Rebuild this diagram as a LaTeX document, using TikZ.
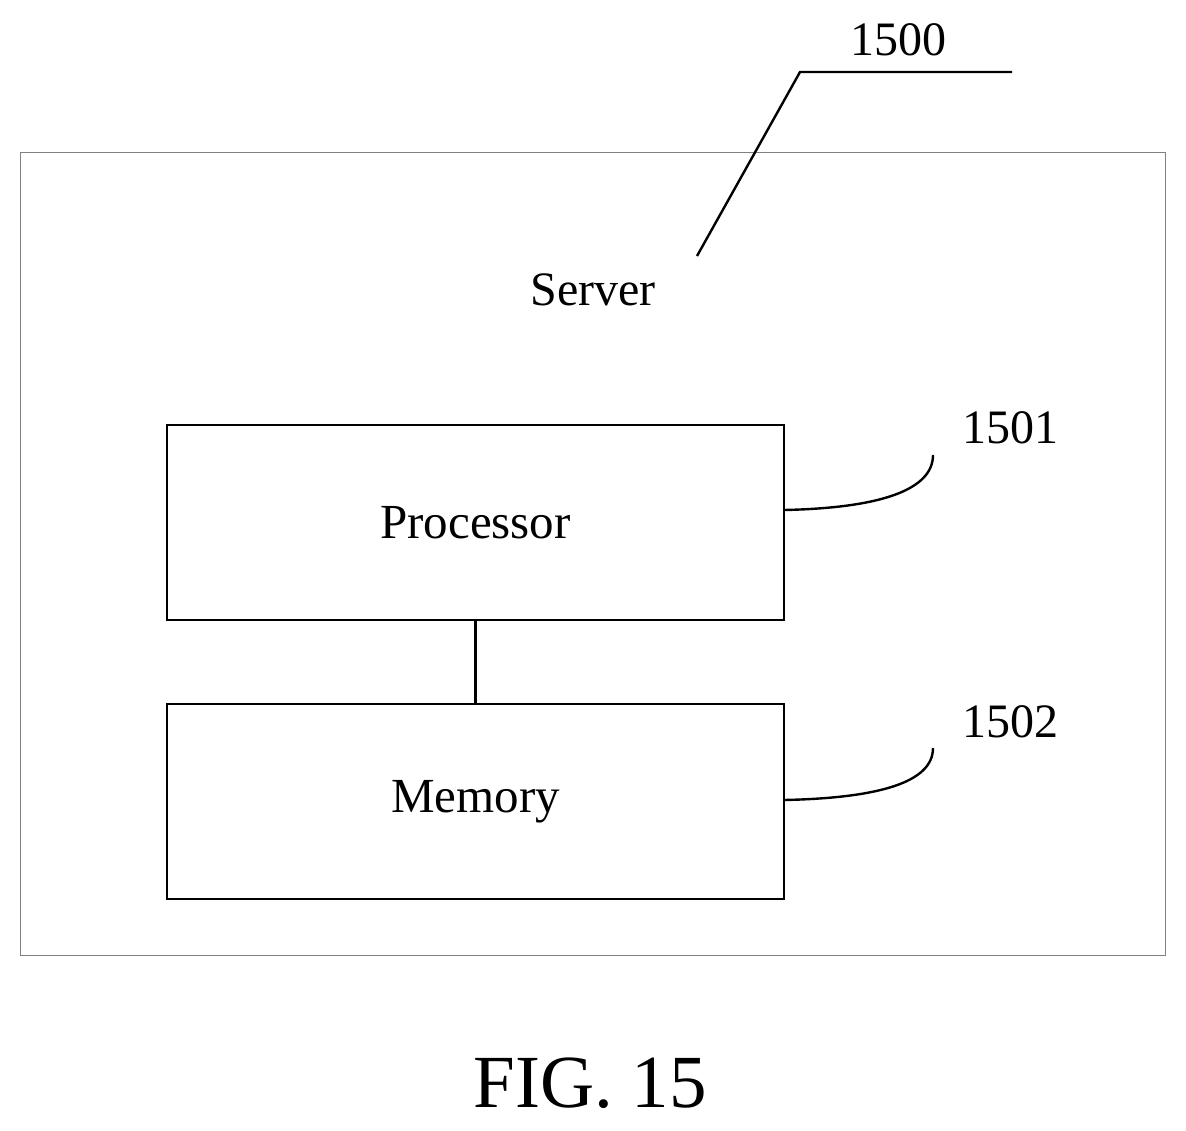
\documentclass[tikz,border=0pt]{standalone}
\usepackage{fontspec}
\setmainfont{Liberation Serif}
\begin{document}
\begin{tikzpicture}[x=1pt,y=-1pt,
  box/.style={draw,line width=2.4pt,minimum width=617pt,minimum height=195pt,inner sep=0pt,font=\fontsize{49}{54}\selectfont},
  lbl/.style={font=\fontsize{48}{52}\selectfont},
  lead/.style={line width=2.4pt}]
\useasboundingbox (0,0) rectangle (1186,1130);
\node[draw=gray,line width=1pt,minimum width=1145pt,minimum height=803pt,inner sep=0pt] (srv) at (592.5,553.5) {};
\node[lbl] (stxt) at (593,290) {Server};
\node[box] (proc) at (475.5,522.5) {Processor};
\node[box] (mem) at (475.5,801.5) {Memory};
\draw[lead] (proc.south) -- (mem.south |- mem.north);
\node[lbl] (l1500) at (898,40) {1500};
\node[lbl] (l1501) at (1010,428) {1501};
\node[lbl] (l1502) at (1010,722) {1502};
\coordinate (a0) at (697,256);
\coordinate (a1) at (800,72);
\coordinate (a2) at (1012,72);
\draw[lead] (a0) -- (a1) -- (a2);
\coordinate (b0) at (784,510);
\coordinate (b1) at (933,455);
\draw[lead] (b0) .. controls (880,508) and (933,490) .. (b1);
\coordinate (c0) at (784,800);
\coordinate (c1) at (933,748);
\draw[lead] (c0) .. controls (880,798) and (933,782) .. (c1);
\node[font=\fontsize{75}{82}\selectfont] (fig) at (590,1083) {FIG. 15};
\end{tikzpicture}
\end{document}
